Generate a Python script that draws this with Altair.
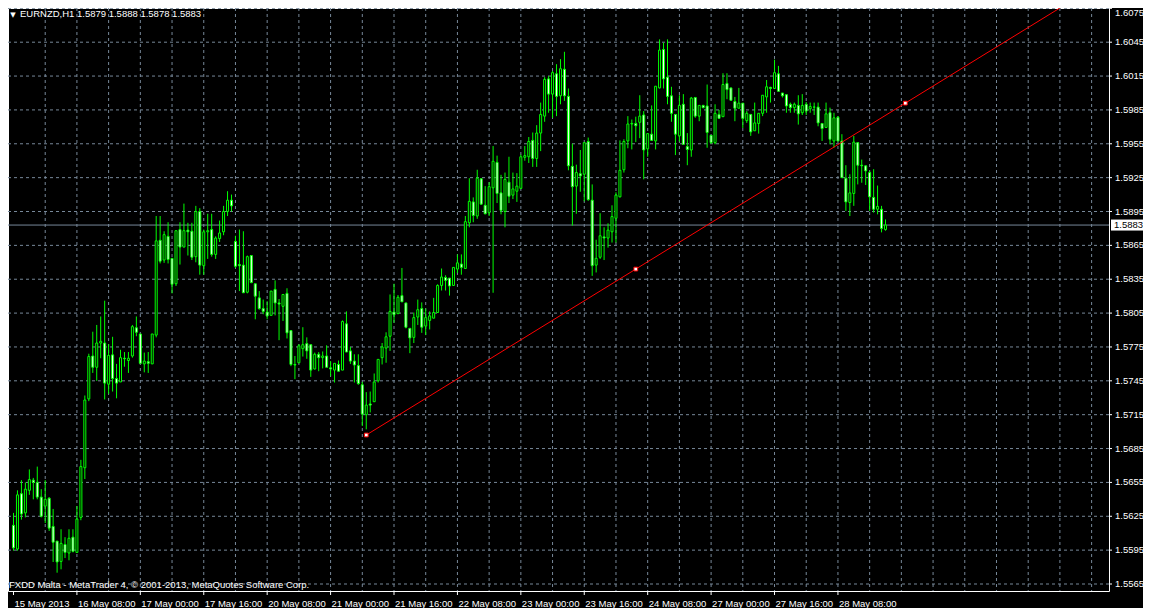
import altair as alt
import pandas as pd

# ------------------------------------------------------------------
# Values (EURNZD, H1, MetaTrader 4)
# ------------------------------------------------------------------
symbol_header = "EURNZD,H1  1.5879 1.5888 1.5878 1.5883"
header_marker = "\u25bc"
footer_note = "FXDD Malta - MetaTrader 4, \u00a9 2001-2013, MetaQuotes Software Corp."

opens = [
    1.5617, 1.5596, 1.5645, 1.5628, 1.5648, 1.5657, 1.5655, 1.5642, 1.5634, 1.5641,
    1.5616, 1.5603, 1.5585, 1.5600, 1.55925, 1.56065, 1.5593, 1.5624, 1.5668, 1.5729,
    1.5767, 1.5757, 1.57785, 1.57785, 1.5742, 1.5768, 1.5747, 1.5744, 1.5765, 1.5763,
    1.5767, 1.5792, 1.57865, 1.5760, 1.5762, 1.5760, 1.57855, 1.58695, 1.5852, 1.5873,
    1.58535, 1.5831, 1.5879, 1.58635, 1.58785, 1.58775, 1.5855, 1.5895, 1.5847, 1.5877,
    1.5879, 1.5857, 1.5871, 1.5877, 1.5895, 1.5905, 1.58685, 1.5848, 1.58475, 1.58235,
    1.5856, 1.5831, 1.58185, 1.5809, 1.5806, 1.5803, 1.5826, 1.5814, 1.5811, 1.58225,
    1.57895, 1.57595, 1.5761, 1.57735, 1.5778, 1.5777, 1.57555, 1.57685, 1.57655, 1.5767,
    1.57565, 1.57545, 1.57595, 1.57545, 1.57955, 1.57715, 1.57625, 1.57585, 1.57415, 1.5715,
    1.57245, 1.57265, 1.5745, 1.57655, 1.5774, 1.57845, 1.5806, 1.58045, 1.58205, 1.5814,
    1.57915, 1.57835, 1.58015, 1.5809, 1.57935, 1.57985, 1.58005, 1.58055, 1.58295, 1.58365,
    1.5836, 1.58295, 1.5844, 1.58485, 1.58445, 1.5885, 1.59035, 1.5891, 1.5924, 1.59005,
    1.5894, 1.5916, 1.59385, 1.59115, 1.5895, 1.5921, 1.59095, 1.5913, 1.59155, 1.5943,
    1.59435, 1.5958, 1.5942, 1.59645, 1.59795, 1.60125, 1.5999, 1.6017, 1.59975, 1.6021,
    1.5997, 1.5935, 1.59175, 1.59285, 1.5928, 1.5957, 1.5905, 1.58475, 1.58545, 1.58725,
    1.58715, 1.5877, 1.5889, 1.5908, 1.5932, 1.59575, 1.59725, 1.5973, 1.5974, 1.59805,
    1.59505, 1.59635, 1.59575, 1.60045, 1.60385, 1.6014, 1.59975, 1.5981, 1.5962, 1.5990,
    1.59525, 1.59495, 1.5996, 1.59795, 1.5989, 1.59885, 1.59625, 1.5956, 1.5981, 1.5979,
    1.60085, 1.60045, 1.59925, 1.59865, 1.5991, 1.59755, 1.5981, 1.59665, 1.5973, 1.5982,
    1.59965, 1.6005, 1.6004, 1.6017, 1.6000, 1.59985, 1.5990, 1.5987, 1.5989, 1.59825,
    1.5990, 1.5986, 1.59875, 1.59875, 1.5973, 1.59695, 1.59825, 1.59575, 1.59785, 1.59575,
    1.59245, 1.5903, 1.5911, 1.5956, 1.5936, 1.59355, 1.59295, 1.59075, 1.5897, 1.5897,
    1.5879,
]

highs = [
    1.5628, 1.5648, 1.5657, 1.5655, 1.56665, 1.5659, 1.5669, 1.5649, 1.5657, 1.5642,
    1.56315, 1.5603, 1.56135, 1.56065, 1.56135, 1.56135, 1.5634, 1.5675, 1.5732, 1.5769,
    1.57885, 1.57945, 1.5802, 1.5816, 1.57775, 1.5784, 1.5760, 1.57725, 1.57705, 1.57705,
    1.57945, 1.5802, 1.57865, 1.5770, 1.57705, 1.57865, 1.5891, 1.5891, 1.58775, 1.58855,
    1.58535, 1.5878, 1.58855, 1.5902, 1.5885, 1.5885, 1.5900, 1.5898, 1.5879, 1.5893,
    1.5893, 1.5873, 1.5887, 1.5900, 1.5913, 1.5910, 1.58735, 1.5879, 1.58775, 1.5856,
    1.5856, 1.5831, 1.58245, 1.5817, 1.58155, 1.58245, 1.5834, 1.58175, 1.58215, 1.5827,
    1.57895, 1.5767, 1.57775, 1.57925, 1.57835, 1.5777, 1.5770, 1.57705, 1.5771, 1.57765,
    1.57625, 1.57605, 1.5763, 1.57985, 1.58065, 1.5775, 1.57685, 1.57685, 1.5744, 1.5735,
    1.57355, 1.57515, 1.5764, 1.57785, 1.5788, 1.58215, 1.5831, 1.5821, 1.5845, 1.5814,
    1.57915, 1.58055, 1.5817, 1.58145, 1.5809, 1.58065, 1.58185, 1.58305, 1.58445, 1.58385,
    1.5836, 1.58455, 1.5857, 1.5857, 1.5891, 1.59245, 1.59075, 1.5932, 1.59245, 1.59175,
    1.5921, 1.5953, 1.59445, 1.59275, 1.59295, 1.59435, 1.59295, 1.5929, 1.59455, 1.5953,
    1.5961, 1.5965, 1.59715, 1.59915, 1.6014, 1.6015, 1.60195, 1.60255, 1.6030, 1.60365,
    1.6004, 1.5955, 1.59365, 1.59495, 1.5956, 1.59605, 1.5919, 1.5870, 1.58935, 1.5881,
    1.58845, 1.59005, 1.5912, 1.5958, 1.5959, 1.59795, 1.59765, 1.5979, 1.5998, 1.5984,
    1.5964, 1.5989, 1.6006, 1.60475, 1.60445, 1.60475, 1.60055, 1.5981, 1.5998, 1.5999,
    1.59645, 1.59965, 1.59965, 1.5989, 1.59895, 1.60075, 1.59625, 1.5990, 1.5985, 1.60175,
    1.60175, 1.60045, 1.59965, 1.60045, 1.5991, 1.5984, 1.5981, 1.59915, 1.5982, 1.5998,
    1.60115, 1.60055, 1.60295, 1.6024, 1.6000, 1.59985, 1.59915, 1.59915, 1.5998, 1.5999,
    1.5992, 1.59915, 1.59915, 1.59915, 1.5973, 1.59915, 1.5987, 1.59825, 1.59795, 1.59635,
    1.5936, 1.5928, 1.5962, 1.5956, 1.5941, 1.59355, 1.5931, 1.59325, 1.5918, 1.5900,
    1.5888,
]

lows = [
    1.55945, 1.55945, 1.5622, 1.5624, 1.5644, 1.5640, 1.5640, 1.5624, 1.5619, 1.5612,
    1.55845, 1.5575, 1.5578, 1.5588, 1.5586, 1.5593, 1.5593, 1.56215, 1.5658, 1.5727,
    1.5752, 1.5745, 1.5765, 1.57285, 1.57335, 1.57355, 1.57295, 1.5744, 1.57575, 1.5752,
    1.57655, 1.57845, 1.57605, 1.57525, 1.5752, 1.5760, 1.57835, 1.5849, 1.58495, 1.5849,
    1.58225, 1.5829, 1.5848, 1.58635, 1.5856, 1.5852, 1.5850, 1.5839, 1.5839, 1.5853,
    1.5855, 1.5853, 1.5868, 1.5874, 1.5891, 1.5895, 1.5845, 1.58245, 1.5823, 1.58225,
    1.58315, 1.57995, 1.5808, 1.5804, 1.57995, 1.5803, 1.5803, 1.5781, 1.5798, 1.57825,
    1.5758, 1.57465, 1.5761, 1.57665, 1.57645, 1.57485, 1.5755, 1.57535, 1.5756, 1.5757,
    1.5749, 1.57435, 1.57535, 1.57545, 1.57705, 1.5760, 1.57435, 1.57415, 1.5705, 1.5702,
    1.5717, 1.57265, 1.57435, 1.57595, 1.5761, 1.57715, 1.57965, 1.58045, 1.5815, 1.57915,
    1.57695, 1.57785, 1.57945, 1.57875, 1.57855, 1.57905, 1.58005, 1.58055, 1.5825, 1.5825,
    1.58205, 1.58295, 1.58405, 1.5839, 1.58445, 1.5881, 1.58855, 1.58885, 1.5901, 1.58925,
    1.5891, 1.5823, 1.59025, 1.58925, 1.5881, 1.59025, 1.5906, 1.59035, 1.5915, 1.5940,
    1.5938, 1.59345, 1.59345, 1.59485, 1.59745, 1.59825, 1.5978, 1.59795, 1.5990, 1.5993,
    1.59315, 1.58825, 1.5893, 1.59125, 1.5904, 1.59045, 1.5838, 1.5841, 1.5853, 1.5852,
    1.5863, 1.58675, 1.58675, 1.59075, 1.59295, 1.5951, 1.5950, 1.59565, 1.5960, 1.59235,
    1.59435, 1.5958, 1.5950, 1.6004, 1.6004, 1.5990, 1.59745, 1.5945, 1.5957, 1.59545,
    1.5936, 1.59435, 1.5978, 1.5975, 1.59865, 1.59515, 1.5955, 1.59545, 1.59775, 1.5979,
    1.59945, 1.59935, 1.5975, 1.59865, 1.5969, 1.59735, 1.5962, 1.59665, 1.5964, 1.59795,
    1.59825, 1.59915, 1.60035, 1.60015, 1.5996, 1.59825, 1.59825, 1.59825, 1.5972, 1.59805,
    1.59805, 1.59825, 1.59805, 1.59705, 1.59575, 1.5969, 1.59545, 1.59515, 1.59575, 1.5925,
    1.58955, 1.5891, 1.5900, 1.5919, 1.59205, 1.59185, 1.58955, 1.5894, 1.58925, 1.58765,
    1.5878,
]

closes = [
    1.5597, 1.5644, 1.5627, 1.5649, 1.56575, 1.5655, 1.5642, 1.5625, 1.5640, 1.56145,
    1.5602, 1.55845, 1.5601, 1.5593, 1.56055, 1.5594, 1.56225, 1.5669, 1.5728, 1.57665,
    1.5757, 1.57785, 1.5780, 1.5743, 1.57675, 1.5747, 1.5743, 1.57655, 1.57645, 1.5765,
    1.5793, 1.5788, 1.57605, 1.57625, 1.57605, 1.57865, 1.5869, 1.5851, 1.58745, 1.58525,
    1.58305, 1.5878, 1.58635, 1.5878, 1.5877, 1.58545, 1.5895, 1.58475, 1.5877, 1.5878,
    1.5857, 1.58715, 1.5876, 1.5895, 1.5905, 1.5900, 1.58465, 1.5847, 1.5823, 1.5855,
    1.5832, 1.5820, 1.5809, 1.58065, 1.58025, 1.58245, 1.5814, 1.5813, 1.58215, 1.57875,
    1.57595, 1.5759, 1.5776, 1.5777, 1.57715, 1.57545, 1.57685, 1.57655, 1.5767, 1.5757,
    1.57555, 1.57605, 1.57535, 1.57975, 1.57705, 1.57625, 1.5759, 1.57425, 1.57155, 1.57235,
    1.57235, 1.5744, 1.5764, 1.5775, 1.5784, 1.58065, 1.58035, 1.5819, 1.5815, 1.57925,
    1.5783, 1.5801, 1.5808, 1.57925, 1.5801, 1.58025, 1.58055, 1.58295, 1.5837, 1.5834,
    1.5829, 1.58455, 1.58495, 1.58455, 1.5886, 1.5904, 1.58915, 1.59245, 1.59015, 1.5893,
    1.5917, 1.59395, 1.5911, 1.5896, 1.59235, 1.59085, 1.5915, 1.59175, 1.59435, 1.59445,
    1.5957, 1.5942, 1.59645, 1.5981, 1.6012, 1.5999, 1.6018, 1.5997, 1.60215, 1.59975,
    1.59355, 1.5917, 1.59295, 1.59265, 1.5956, 1.59055, 1.5847, 1.58535, 1.58735, 1.58715,
    1.58785, 1.58905, 1.59095, 1.59315, 1.5957, 1.59725, 1.5973, 1.5971, 1.59795, 1.59495,
    1.5964, 1.5958, 1.6006, 1.6038, 1.60125, 1.5997, 1.5982, 1.59635, 1.5989, 1.59545,
    1.5950, 1.59955, 1.59795, 1.5989, 1.5987, 1.5965, 1.5956, 1.5982, 1.59775, 1.60075,
    1.6003, 1.59935, 1.59865, 1.5991, 1.59775, 1.5982, 1.59655, 1.59735, 1.5982, 1.5998,
    1.60055, 1.6004, 1.6018, 1.60015, 1.59975, 1.59885, 1.5987, 1.5990, 1.59815, 1.5989,
    1.5984, 1.5988, 1.59875, 1.59735, 1.59685, 1.59815, 1.5959, 1.5978, 1.59575, 1.5925,
    1.59035, 1.59115, 1.59565, 1.5936, 1.59355, 1.5931, 1.5908, 1.5897, 1.58995, 1.5880,
    1.5883,
]

time_tick_bars = [0, 16, 32, 48, 64, 80, 96, 112, 128, 144, 160, 176, 192, 208]
time_tick_labels = [
    "15 May 2013", "16 May 08:00", "17 May 00:00", "17 May 16:00", "20 May 08:00",
    "21 May 00:00", "21 May 16:00", "22 May 08:00", "23 May 00:00", "23 May 16:00",
    "24 May 08:00", "27 May 00:00", "27 May 16:00", "28 May 08:00",
]
price_ticks = [
    1.5565, 1.5595, 1.5625, 1.5655, 1.5685, 1.5715, 1.5745, 1.5775, 1.5805,
    1.5835, 1.5865, 1.5895, 1.5925, 1.5955, 1.5985, 1.6015, 1.6045, 1.6075,
]
bid_price = [1.5883]
trend_anchor_bars = [89, 225]
trend_anchor_prices = [1.5697, 1.5991]

assert len(opens) == len(highs) == len(lows) == len(closes) == 221

# ------------------------------------------------------------------
# Styling / layout
# ------------------------------------------------------------------
PLOT_W, PLOT_H = 1101, 583
PAD_R, PAD_B = 34, 17          # total svg 1135 x 600 -> fits the page without scaling
BAR_PX = 4.0
X_DOMAIN = [-0.125, -0.125 + PLOT_W / BAR_PX]
Y_DOMAIN = [1.55588, 1.607529]
PX_PER_PRICE = PLOT_H / (Y_DOMAIN[1] - Y_DOMAIN[0])
GRID = "#778899"
LIME = "#00ff00"
WHITE = "#ffffff"
FONT = "Liberation Sans"
FS = 9.5

xs = alt.Scale(domain=X_DOMAIN, nice=False, zero=False)
ys = alt.Scale(domain=Y_DOMAIN, nice=False, zero=False)


def X(field):
    return alt.X(field, scale=xs, axis=None)


def Y(field):
    return alt.Y(field, scale=ys, axis=None)


n = len(opens)
candles = pd.DataFrame({
    "bar": list(range(n)),
    "open": opens, "high": highs, "low": lows, "close": closes,
})
candles["body_lo"] = candles[["open", "close"]].min(axis=1)
candles["body_hi"] = candles[["open", "close"]].max(axis=1)
candles["kind"] = ["bear" if c < o else "bull" for o, c in zip(opens, closes)]

# ---- grid (dotted, light slate gray) ----
ygrid_df = pd.DataFrame({"price": price_ticks})
xgrid_df = pd.DataFrame({"bar": list(range(8, 277, 8))})
ygrid = alt.Chart(ygrid_df).mark_rule(color=GRID, strokeDash=[3, 3], strokeWidth=1).encode(y=Y("price:Q"))
xgrid = alt.Chart(xgrid_df).mark_rule(color=GRID, strokeDash=[3, 3], strokeWidth=1, clip=True).encode(x=X("bar:Q"))

# ---- bid line ----
bid_df = pd.DataFrame({"price": bid_price, "label": [f"{p:.4f}" for p in bid_price]})
bid_rule = alt.Chart(bid_df).mark_rule(color=GRID, strokeWidth=1).encode(y=Y("price:Q"))

# ---- candles ----
wicks = alt.Chart(candles).mark_rule(color=LIME, strokeWidth=1, clip=True).encode(
    x=X("bar:Q"), y=Y("low:Q"), y2="high:Q",
)
bodies = alt.Chart(candles).mark_bar(size=2, stroke=LIME, strokeWidth=1, clip=True).encode(
    x=X("bar:Q"), y=Y("body_lo:Q"), y2="body_hi:Q",
    fill=alt.Fill("kind:N", scale=alt.Scale(domain=["bull", "bear"], range=["#000000", "#ffffff"]), legend=None),
)

# ---- trend line with its three handles ----
b1, b2 = trend_anchor_bars
p1, p2 = trend_anchor_prices
slope = (p2 - p1) / (b2 - b1)
trend_df = pd.DataFrame({
    "bar": [b1, X_DOMAIN[1]],
    "price": [p1, p1 + slope * (X_DOMAIN[1] - b1)],
})
trend_line = alt.Chart(trend_df).mark_line(color="#ff0000", strokeWidth=1, clip=True).encode(
    x=X("bar:Q"), y=Y("price:Q"),
)
anchor_df = pd.DataFrame({
    "bar": [b1, (b1 + b2) / 2, b2],
    "price": [p1, (p1 + p2) / 2, p2],
})
anchors = alt.Chart(anchor_df).mark_square(
    size=14, filled=True, fill=WHITE, stroke="#ff0000", strokeWidth=1, opacity=1
).encode(x=X("bar:Q"), y=Y("price:Q"))

# ---- right price scale (drawn as marks) ----
near_top = Y_DOMAIN[1] - 5 / PX_PER_PRICE
yl_df = pd.DataFrame({"price": price_ticks, "label": [f"{p:.4f}" for p in price_ticks]})
yl_mid = yl_df[yl_df["price"] < near_top]
yl_top = yl_df[yl_df["price"] >= near_top]
y_ticks = alt.Chart(yl_df).mark_rule(color=WHITE, strokeWidth=1).encode(
    y=Y("price:Q"), x=alt.value(PLOT_W), x2=alt.value(PLOT_W + 3),
)
y_labels = alt.Chart(yl_mid).mark_text(
    align="left", baseline="middle", color=WHITE, font=FONT, fontSize=FS
).encode(y=Y("price:Q"), x=alt.value(PLOT_W + 6), text="label:N")
y_labels_top = alt.Chart(yl_top).mark_text(
    align="left", baseline="top", color=WHITE, font=FONT, fontSize=FS
).encode(y=Y("price:Q"), x=alt.value(PLOT_W + 6), text="label:N")

bid_box = alt.Chart(bid_df).mark_tick(
    orient="horizontal", size=32, thickness=11, color=WHITE, opacity=1
).encode(y=Y("price:Q"), x=alt.value(PLOT_W + 18))
bid_text = alt.Chart(bid_df).mark_text(
    align="left", baseline="middle", color="#000000", font=FONT, fontSize=FS
).encode(y=Y("price:Q"), x=alt.value(PLOT_W + 5), text="label:N")

# ---- bottom time scale (drawn as marks) ----
xl_df = pd.DataFrame({"bar": time_tick_bars, "label": time_tick_labels})
x_ticks = alt.Chart(xl_df).mark_rule(color=WHITE, strokeWidth=1).encode(
    x=X("bar:Q"), y=alt.value(PLOT_H), y2=alt.value(PLOT_H + 4),
)
x_labels = alt.Chart(xl_df).mark_text(
    align="left", baseline="top", dx=1, color=WHITE, font=FONT, fontSize=FS
).encode(x=X("bar:Q"), y=alt.value(PLOT_H + 8), text="label:N")

# ---- header / footer texts ----
header = alt.Chart(pd.DataFrame({"t": [symbol_header]})).mark_text(
    align="left", baseline="top", color=WHITE, font=FONT, fontSize=FS
).encode(text="t:N", x=alt.value(12), y=alt.value(1))
marker = alt.Chart(pd.DataFrame({"t": [header_marker]})).mark_text(
    align="center", baseline="top", color=WHITE, font="DejaVu Sans", fontSize=7
).encode(text="t:N", x=alt.value(5), y=alt.value(3))
footer = alt.Chart(pd.DataFrame({"t": [footer_note]})).mark_text(
    align="left", baseline="middle", color=WHITE, font=FONT, fontSize=FS
).encode(text="t:N", x=alt.value(1), y=alt.value(577))

chart = alt.layer(
    ygrid, xgrid, bid_rule, wicks, bodies, trend_line, anchors,
    y_ticks, y_labels, y_labels_top, bid_box, bid_text,
    x_ticks, x_labels, header, marker, footer,
).properties(
    width=PLOT_W,
    height=PLOT_H,
    background="#000000",
    padding={"left": 0, "top": 0, "right": PAD_R, "bottom": PAD_B},
    autosize=alt.AutoSizeParams(type="none"),
).configure_view(stroke=WHITE, strokeWidth=1)

chart.save("out.html", embed_options={"renderer": "svg", "actions": False})
